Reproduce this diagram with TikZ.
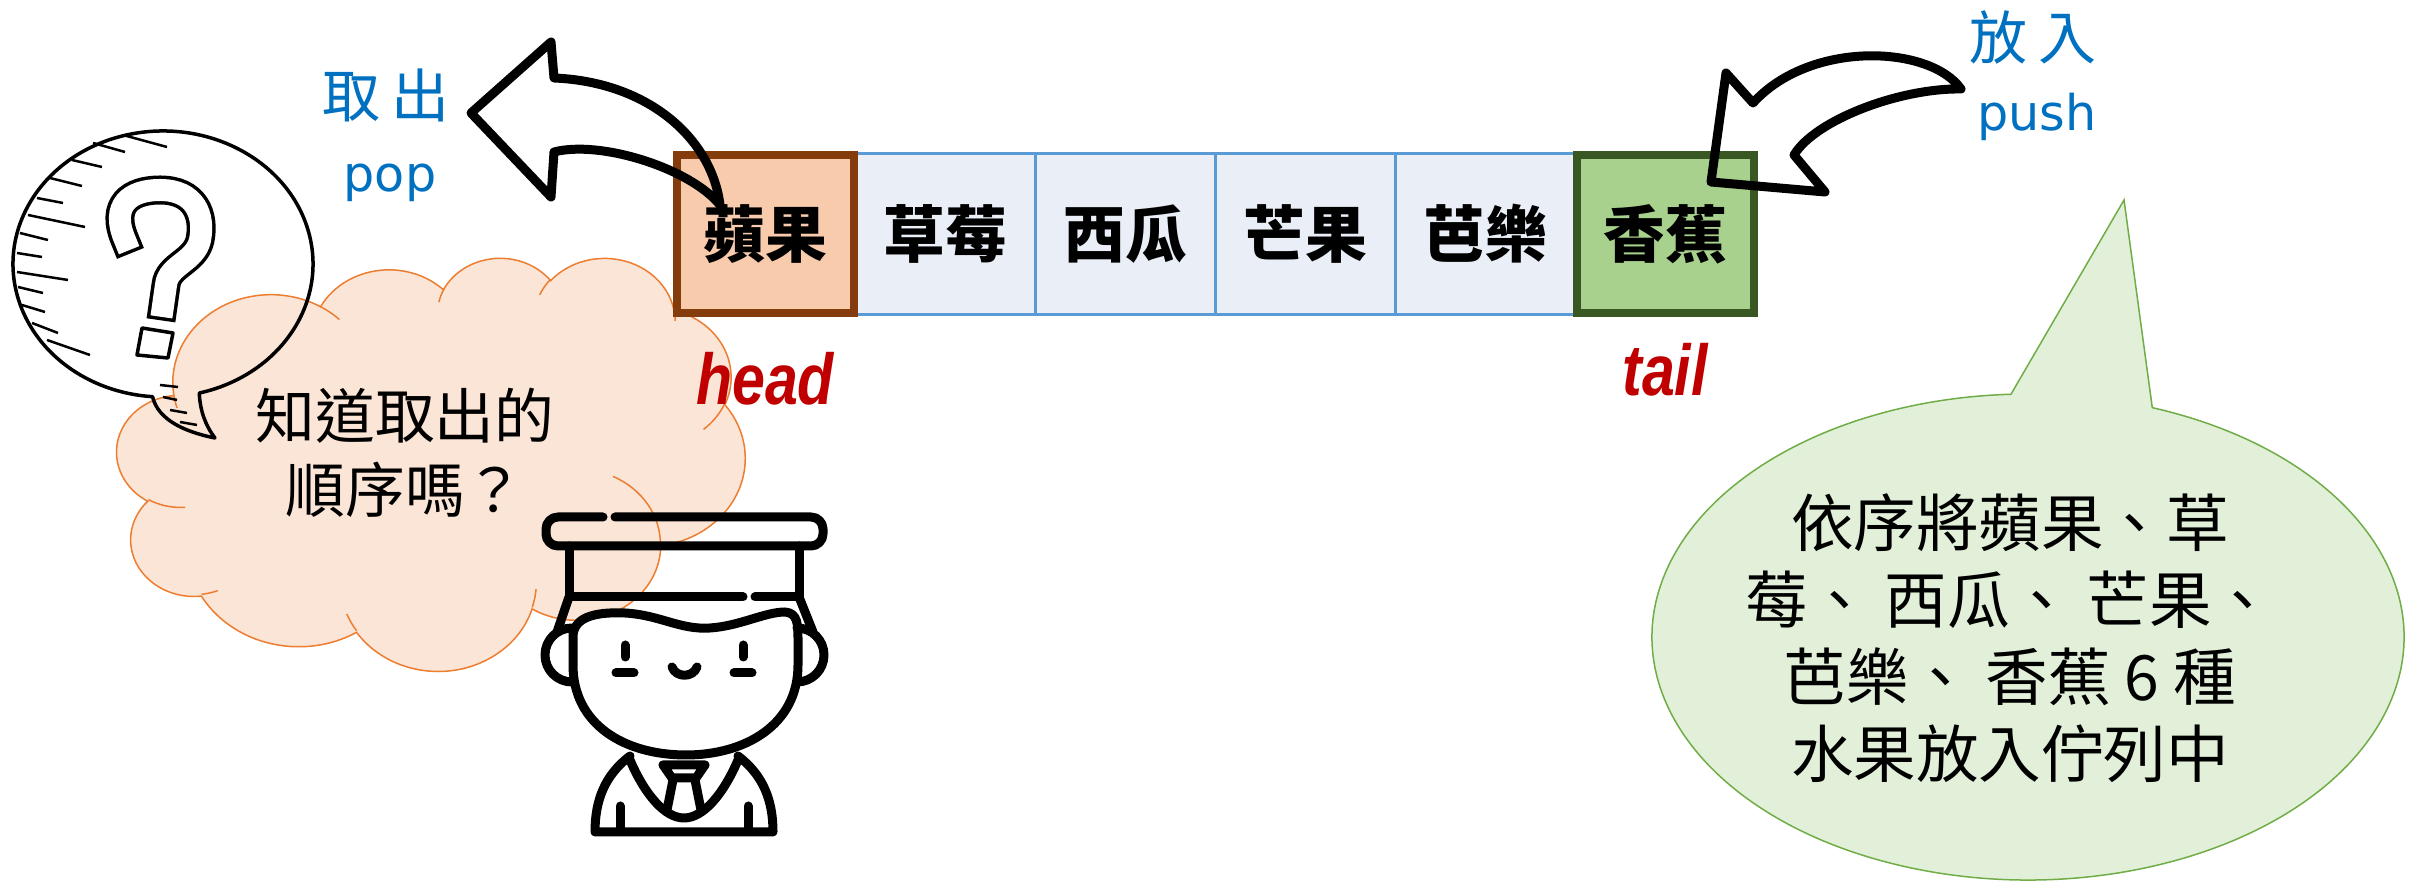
\documentclass[tikz,border=0pt]{standalone}
\usepackage{fontspec}
\setmainfont{Noto Sans CJK TC}
\newfontfamily\tagfont[FakeStretch=0.82]{Liberation Sans}
\newfontfamily\opfont{DejaVu Sans}

\definecolor{applefill}{HTML}{F8CBAD}
\definecolor{appleline}{HTML}{843C0C}
\definecolor{queuefill}{HTML}{E9EEF7}
\definecolor{queueline}{HTML}{5B9BD5}
\definecolor{bananafill}{HTML}{A9D18E}
\definecolor{bananaline}{HTML}{385723}
\definecolor{cloudfill}{HTML}{FBE5D6}
\definecolor{cloudedge}{HTML}{ED7D31}
\definecolor{sayfill}{HTML}{E2F0D9}
\definecolor{sayedge}{HTML}{70AD47}
\definecolor{opblue}{HTML}{0070C0}
\definecolor{tagred}{HTML}{C00000}

\tikzset{
  qbox/.style={draw=queueline, line width=0.3mm, fill=queuefill, minimum width=18mm, minimum height=16.1mm, inner sep=0pt, font=\fontsize{17.6}{21}\selectfont\bfseries},
  endbox/.style={qbox, line width=0.8mm, minimum width=17.7mm, minimum height=15.8mm},
  oplabel/.style={text=opblue, inner sep=0pt},
  tag/.style={text=tagred, inner sep=0pt, font=\tagfont\fontsize{20.5}{24}\selectfont\bfseries\itshape},
  blockarrow/.style={draw=black, line width=0.9mm, line join=round},
  figline/.style={line width=0.9mm, line cap=round, line join=round},
  sketch/.style={line width=0.35mm, line join=round},
}

\begin{document}
\begin{tikzpicture}[x=0.1mm, y=-0.1mm]
  \useasboundingbox (0,0) rectangle (2420,881);

  % thought cloud (11 puffs, inner folds drawn after)
  \begin{scope}[shift={(117,257)}, x=1.4537mm, y=-0.956mm]
    \draw[fill=cloudfill, draw=cloudedge, line width=0.15mm] (3.9,14.37)
      \foreach \w/\h/\s/\d [evaluate={\s as \ta using atan2(\w*sin(\s),\h*cos(\s))},
                            evaluate={\s as \tb using atan2(\w*sin(\s+\d),\h*cos(\s+\d))},
                            evaluate={\d as \dt using (\tb)-(\ta)-360*round(((\tb)-(\ta)-(\d))/360)}] in
        {6.753/9.190/-190.4875/123.7805, 5.333/7.267/-144.1024/89.9452,
         4.365/5.945/-145.8079/99.7230, 4.857/6.595/-130.9861/117.2417,
         5.333/7.273/-78.7089/109.0269, 6.775/9.220/-46.2673/130.2690,
         5.785/7.867/0.6250/114.0333, 6.752/9.215/22.4516/115.1726,
         7.720/10.543/66.2426/75.7110, 4.360/5.918/-274.9421/146.7356,
         4.345/5.945/-246.8285/152.5189}
      { arc[x radius=\w, y radius=\h, start angle=\ta, delta angle=\dt] } -- cycle;
    \draw[draw=cloudedge, line width=0.15mm]
      \foreach \x/\y/\w/\h/\s/\d [evaluate={\s as \ta using atan2(\w*sin(\s),\h*cos(\s))},
                                  evaluate={\s as \tb using atan2(\w*sin(\s+\d),\h*cos(\s+\d))},
                                  evaluate={\d as \dt using (\tb)-(\ta)-360*round(((\tb)-(\ta)-(\d))/360)}] in
        {4.693/26.177/4.345/5.945/86.7420/26.4295, 6.928/34.899/4.360/5.918/73.6105/11.4475,
         16.478/39.090/6.752/9.215/137.6242/14.0811, 28.827/34.751/6.752/9.215/6.4533/15.9984,
         34.129/22.954/5.785/7.867/-70.2924/70.9174, 41.798/15.354/5.333/7.273/30.3180/27.7515,
         38.324/5.426/4.857/6.595/-13.7443/14.8589, 29.078/3.952/4.857/6.595/-149.1815/18.1954,
         22.141/4.720/4.365/5.945/-163.4943/17.6864, 14.000/5.192/6.753/9.190/-66.7070/12.3194,
         4.127/15.789/6.753/9.190/157.6544/11.8582}
      { (\x,\y) arc[x radius=\w, y radius=\h, start angle=\ta, delta angle=\dt] };
  \end{scope}
  \node[font=\fontsize{17}{21}\selectfont, align=center] (ask) at (405,453) {知道取出的\\順序嗎？};

  % speech bubble with the question mark
  \coordinate (qc) at (163,264);
  \draw[sketch] (qc) ++(76:150 and 133) arc[start angle=76, end angle=-266, x radius=150, y radius=133]
    .. controls (158,420) and (185,432) .. (215,438) .. controls (205,425) and (200,410) .. cycle;
  \foreach \xa/\ya/\xb/\yb in {123/135/167/147, 93/143/125/152, 72/160/102/167, 50/178/82/186,
      37/198/63/203, 28/215/85/227, 20/233/48/240, 17/253/42/257, 17/272/68/280, 18/287/43/293,
      22/305/45/312, 32/323/58/333, 47/340/90/355, 160/385/178/387, 163/397/177/400,
      170/410/187/413, 180/422/197/425}
    \draw[line width=0.25mm] (\xa,\ya) -- (\xb,\yb);
  \draw[line width=0.35mm, double=white, double distance=2.2mm, line cap=rect]
    (125,240) .. controls (110,205) and (130,190) .. (160,190) .. controls (195,190) and (205,215) .. (200,240)
    .. controls (195,262) and (168,265) .. (166,285) -- (163,306);
  \draw[sketch] (142,328) -- (173,333) -- (168,358) -- (137,355) -- cycle;

  % the guard
  \draw[figline, rounded corners=1.2mm] (615,517) -- (823,517) -- (823,546) -- (546,546) -- (546,517) -- (603,517);
  \draw[figline] (569,546) -- (569,597) -- (743,597);
  \draw[figline] (755,597) -- (799,597) -- (799,546);
  \draw[figline] (569,597) -- (557,632);
  \draw[figline] (799,597) -- (813,632);
  \draw[figline] (572,628) arc[start angle=-90, delta angle=-180, radius=27];
  \draw[figline] (797,628) arc[start angle=-90, delta angle=180, radius=27];
  \draw[figline] (573,665) -- (573,635) .. controls (575,615) and (600,612) .. (625,613)
    .. controls (660,615) and (680,630) .. (710,628) .. controls (740,626) and (765,612) .. (785,612)
    .. controls (798,613) and (798,625) .. (798,640) -- (798,665)
    .. controls (798,725) and (745,755) .. (686,755) .. controls (625,755) and (573,725) .. cycle;
  \draw[figline] (625,645) -- (625,657);
  \draw[figline] (743,645) -- (743,657);
  \draw[figline] (616,673) -- (634,673);
  \draw[figline] (734,673) -- (752,673);
  \draw[figline] (672,667) .. controls (676,678) and (693,678) .. (697,667);
  \draw[figline] (630,756) .. controls (605,775) and (595,800) .. (595,832) -- (773,832)
    .. controls (773,800) and (763,775) .. (738,756);
  \draw[figline] (630,760) .. controls (645,795) and (665,818) .. (684,818) .. controls (703,818) and (723,795) .. (738,760);
  \draw[figline] (663,765) -- (705,765) -- (696,778) -- (672,778) -- cycle;
  \draw[figline] (673,780) -- (667,810);
  \draw[figline] (695,780) -- (701,810);
  \draw[figline] (620,806) -- (620,830);
  \draw[figline] (748,806) -- (748,830);

  % the queue
  \node[qbox] (2) at (945,234) {草莓};
  \node[qbox] (3) at (1125,234) {西瓜};
  \node[qbox] (4) at (1305,234) {芒果};
  \node[qbox] (5) at (1485,234) {芭樂};
  \node[endbox, fill=applefill, draw=appleline] (1) at (765,234) {蘋果};
  \node[endbox, fill=bananafill, draw=bananaline] (6) at (1665,234) {香蕉};

  \node[tag] (head) at (765,379) {head};
  \node[tag] (tail) at (1665,370) {tail};

  \node[oplabel, font=\fontsize{16.5}{20}\selectfont] (pop) at (386,95) {取\hspace{1.2mm}出};
  \node[oplabel, font=\opfont\fontsize{14}{17}\selectfont] (popen) at (390,183) {pop};
  \node[oplabel, font=\fontsize{16.5}{20}\selectfont] (push) at (2033,37) {放\hspace{1.2mm}入};
  \node[oplabel, font=\opfont\fontsize{14}{17}\selectfont] (pushen) at (2037,117) {push};

  % remark bubble
  \coordinate (sc) at (2028,637);
  \draw[fill=sayfill, draw=sayedge, line width=0.15mm] (sc) ++(-70.7:376 and 243)
    arc[start angle=-70.7, end angle=267.4, x radius=376, y radius=243] -- (2124,200) -- cycle;
  \node[font=\fontsize{17.8}{21.9}\selectfont, align=center] (say) at (2010,638)
    {依序將蘋果、草\\莓、 西瓜、 芒果、\\芭樂、 香蕉 6 種\\水果放入佇列中};

  % pop and push arrows
  \draw[blockarrow] (720,205) .. controls (712,140) and (650,82) .. (554,78) -- (551,42) -- (471,113)
    -- (551,197) -- (554,152) .. controls (600,140) and (690,168) .. cycle;
  \draw[blockarrow] (1961,89) .. controls (1930,45) and (1810,40) .. (1753,103) -- (1726,73) -- (1711,182)
    -- (1825,192) -- (1794,155) .. controls (1815,120) and (1900,88) .. cycle;
\end{tikzpicture}
\end{document}
